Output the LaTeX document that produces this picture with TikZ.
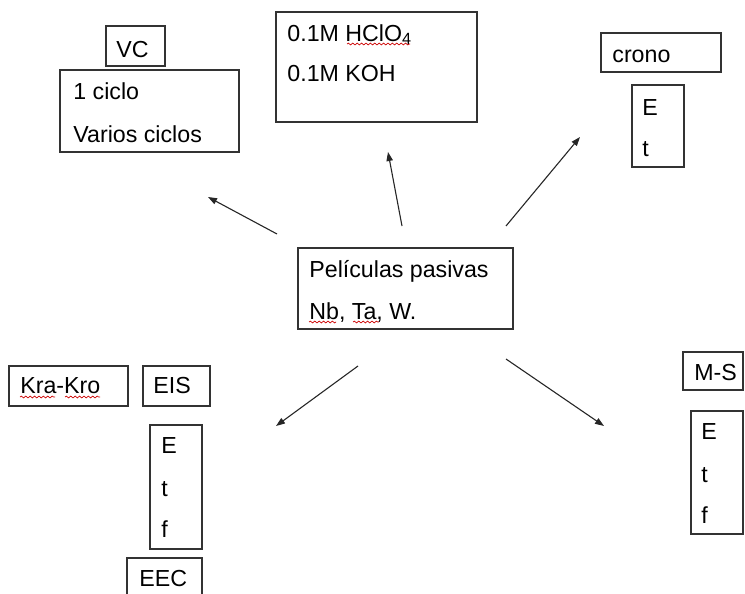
\documentclass[tikz,border=0pt]{standalone}
\usepackage{fontspec}
\setmainfont{Liberation Sans}
\usetikzlibrary{arrows.meta, fit, decorations.pathmorphing}

\begin{document}
\begin{tikzpicture}[x=0.5pt, y=-0.5pt,
  box/.style={draw=black!80, line width=0.6pt, inner sep=0pt},
  txt/.style={anchor=base west, inner sep=0pt, font=\fontsize{11.6}{14}\selectfont},
  arr/.style={-{Triangle[length=4.5pt, width=3.2pt]}, line width=0.55pt, draw=black!85},
  spell/.style={draw=red!80!black, line width=0.35pt, decorate,
                decoration={snake, amplitude=0.45pt, segment length=2.2pt}}]
  \useasboundingbox (0,0) rectangle (745,594);

  % central box
  \node[box, fit={(298,248) (513,329)}] (pel) {};
  \node[txt] (pel1) at (309,277) {Películas pasivas};
  \node[txt] (pel2) at (309,319) {Nb, Ta, W.};

  % upper left: VC
  \node[box, fit={(106,26) (165,66)}] (vc) {};
  \node[txt] (vct) at (116,57) {VC};
  \node[box, fit={(60,70) (239,152)}] (ciclos) {};
  \node[txt] (cic1) at (73,99) {1 ciclo};
  \node[txt] (cic2) at (73,142) {Varios ciclos};

  % top: electrolytes
  \node[box, fit={(276,12) (477,122)}] (elec) {};
  \node[txt] (hclo) at (287,41) {0.1M HClO\textsubscript{4}};
  \node[txt] (koh) at (287,82) {0.1M KOH};

  % upper right: crono
  \node[box, fit={(601,33) (721,72)}] (crono) {};
  \node[txt] (cront) at (612,62) {crono};
  \node[box, fit={(632,85) (684,167)}] (cvar) {};
  \node[txt] (cvE) at (642,115) {E};
  \node[txt] (cvt) at (642,156) {t};

  % lower left: EIS
  \node[box, fit={(9,366) (128,406)}] (kk) {};
  \node[txt] (kkt) at (20,393) {Kra-Kro};
  \node[box, fit={(143,366) (210,406)}] (eis) {};
  \node[txt] (eist) at (153,393) {EIS};
  \node[box, fit={(150,425) (202,549)}] (evar) {};
  \node[txt] (evE) at (161,453) {E};
  \node[txt] (evt) at (161,496) {t};
  \node[txt] (evf) at (161,537) {f};
  \node[box, fit={(127,558) (202,604)}] (eec) {};
  \node[txt] (eect) at (139,586) {EEC};

  % lower right: M-S
  \node[box, fit={(683,352) (743,390)}] (ms) {};
  \node[txt] (mst) at (694,380) {M-S};
  \node[box, fit={(691,411) (743,534)}] (mvar) {};
  \node[txt] (mvE) at (701,439) {E};
  \node[txt] (mvt) at (701,482) {t};
  \node[txt] (mvf) at (701,523) {f};

  % arrow ends
  \coordinate (a1s) at (277,234); \coordinate (a1e) at (208,197);
  \coordinate (a2s) at (402,226); \coordinate (a2e) at (388,152);
  \coordinate (a3s) at (506,226); \coordinate (a3e) at (580,137);
  \coordinate (a4s) at (358,366); \coordinate (a4e) at (276,426);
  \coordinate (a5s) at (506,359); \coordinate (a5e) at (604,426);
  \draw[arr] (a1s) -- (a1e);
  \draw[arr] (a2s) -- (a2e);
  \draw[arr] (a3s) -- (a3e);
  \draw[arr] (a4s) -- (a4e);
  \draw[arr] (a5s) -- (a5e);

  % spell-check marks
  \draw[spell] (347,44) -- (410,44);
  \draw[spell] (20,397) -- (55,397);
  \draw[spell] (65,397) -- (100,397);
  \draw[spell] (309,322) -- (336,322);
  \draw[spell] (353,322) -- (379,322);
\end{tikzpicture}
\end{document}
